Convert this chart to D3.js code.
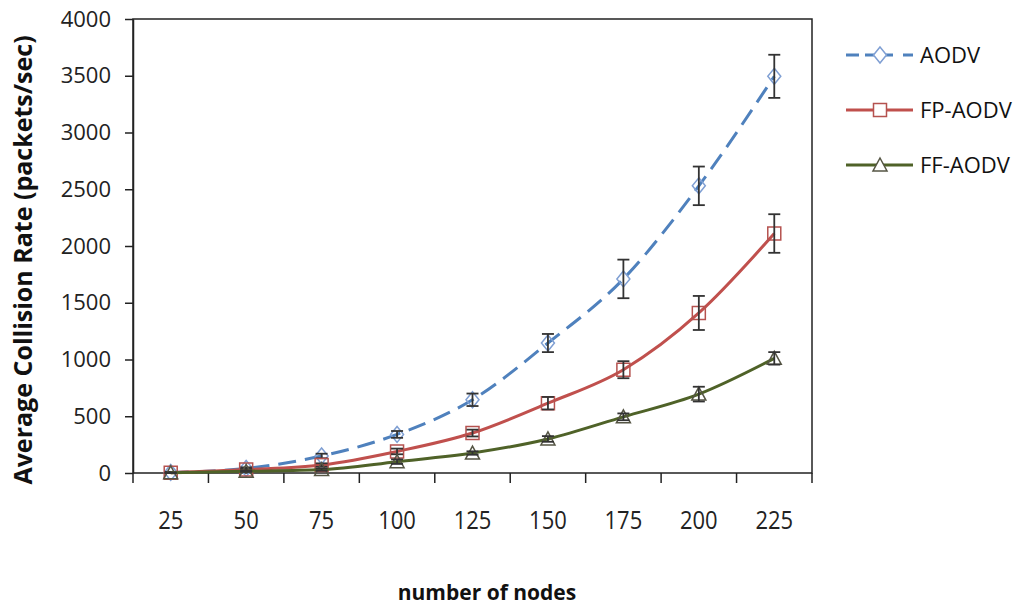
<!DOCTYPE html>
<html>
<head>
<meta charset="utf-8">
<script src="https://cdn.jsdelivr.net/npm/d3@7"></script>
<style>
body{margin:0;background:#fff;}
svg{display:block;font-family:"Open Sans",sans-serif;}
</style>
</head>
<body>
<div id="chart"></div>
<script>
// data
var nodes = ["25","50","75","100","125","150","175","200","225"];
var aodv   = [5, 40, 150, 340, 645, 1145, 1710, 2530, 3495];
var aodvErr= [5, 10, 20, 30, 55, 80, 170, 170, 190];
var fp     = [3, 30, 70, 190, 352, 615, 910, 1410, 2110];
var fpErr  = [3, 8, 15, 25, 30, 55, 75, 150, 170];
var ff     = [2, 15, 30, 100, 176, 300, 495, 695, 1010];
var ffErr  = [2, 5, 10, 20, 15, 25, 30, 65, 55];
var yTicks = [0,500,1000,1500,2000,2500,3000,3500,4000];

var series = [
	{name:"AODV", vals:aodv, err:aodvErr, color:"#4F81BD", mark:"#7F9FD3", dash:"18,9", legDash:"13,6,28,10,13", shape:"diamond"},
	{name:"FP-AODV", vals:fp, err:fpErr, color:"#C0504D", mark:"#B5524F", dash:null, legDash:null, shape:"square"},
	{name:"FF-AODV", vals:ff, err:ffErr, color:"#4F6228", mark:"#555544", dash:null, legDash:null, shape:"triangle"}
];

var W = 1018, H = 607;
var pLeft = 133, pRight = 812, pTop = 19, pBottom = 473;

var svg = d3.select("#chart").append("svg").attr("width",W).attr("height",H);

var x = d3.scaleBand().domain(nodes).range([pLeft,pRight]);
var y = d3.scaleLinear().domain([0,4000]).range([pBottom,pTop]);
function cx(c){ return x(c) + x.bandwidth()/2; }

// plot frame
svg.append("rect").attr("x",pLeft).attr("y",pTop).attr("width",pRight-pLeft).attr("height",pBottom-pTop)
	.style("fill","none").style("stroke","#222").style("stroke-width",1.5);

// y axis
var yAxis = d3.axisLeft(y).tickValues(yTicks).tickFormat(d3.format("d")).tickSize(8).tickSizeOuter(0).tickPadding(14);
var gy = svg.append("g").attr("transform","translate(" + pLeft + ",0)").call(yAxis);
gy.select(".domain").style("stroke","#222").style("stroke-width",1.5);
gy.selectAll(".tick line").style("stroke","#222").style("stroke-width",1.5);
gy.selectAll(".tick text").style("font-size","22px").style("fill","#222").style("font-family","'Open Sans',sans-serif");

// x axis: ticks between categories, like excel
var bounds = nodes.map(function(c){ return x(c); }).concat([pRight]);
svg.selectAll(".xtick").data(bounds).enter().append("line").attr("class","xtick")
	.attr("x1",function(d){ return d; }).attr("x2",function(d){ return d; })
	.attr("y1",pBottom).attr("y2",pBottom+10)
	.style("stroke","#222").style("stroke-width",1.5);

svg.selectAll(".xlab").data(nodes).enter().append("text").attr("class","xlab")
	.attr("x",function(d){ return cx(d); })
	.attr("y",529/1.15)
	.attr("transform","scale(1,1.15)")
	.attr("text-anchor","middle")
	.style("font-size","22px").style("fill","#222")
	.text(function(d){ return d; });

// lines
var line = d3.line().x(function(d){ return cx(d.c); }).y(function(d){ return y(d.v); }).curve(d3.curveMonotoneX);

function shapePath(shape, px, py){
	if (shape == "diamond"){
		return "M" + px + "," + (py-8) + "L" + (px+6.5) + "," + py + "L" + px + "," + (py+8) + "L" + (px-6.5) + "," + py + "Z";
	} else if (shape == "square"){
		return "M" + (px-6.5) + "," + (py-6.5) + "h13v13h-13Z";
	}
	return "M" + px + "," + (py-7) + "L" + (px+7) + "," + (py+6) + "L" + (px-7) + "," + (py+6) + "Z";
}

series.forEach(function(s){
	var pts = s.vals.map(function(v,i){ return {c:nodes[i], v:v, e:s.err[i]}; });

	svg.append("path").datum(pts).attr("d",line)
		.style("fill","none").style("stroke",s.color).style("stroke-width",3)
		.style("stroke-dasharray",s.dash);

	svg.selectAll(".m-" + s.shape).data(pts).enter().append("path").attr("class","m-" + s.shape)
		.attr("d",function(d){ return shapePath(s.shape, cx(d.c), y(d.v)); })
		.style("fill","none").style("stroke",s.mark).style("stroke-width",1.5);

	// error bars
	var eb = svg.selectAll(".eb-" + s.shape).data(pts).enter().append("g").attr("class","eb-" + s.shape);
	eb.append("line").attr("x1",function(d){ return cx(d.c); }).attr("x2",function(d){ return cx(d.c); })
		.attr("y1",function(d){ return y(d.v + d.e); }).attr("y2",function(d){ return y(d.v - d.e); });
	eb.append("line").attr("x1",function(d){ return cx(d.c) - 6; }).attr("x2",function(d){ return cx(d.c) + 6; })
		.attr("y1",function(d){ return y(d.v + d.e); }).attr("y2",function(d){ return y(d.v + d.e); });
	eb.append("line").attr("x1",function(d){ return cx(d.c) - 6; }).attr("x2",function(d){ return cx(d.c) + 6; })
		.attr("y1",function(d){ return y(d.v - d.e); }).attr("y2",function(d){ return y(d.v - d.e); });
	eb.selectAll("line").style("stroke","#333").style("stroke-width",1.8);
});

// legend
var legendY = [55,110,165];
series.forEach(function(s,i){
	var g = svg.append("g").attr("transform","translate(846," + legendY[i] + ")");
	g.append("line").attr("x1",0).attr("x2",67).attr("y1",0).attr("y2",0)
		.style("stroke",s.color).style("stroke-width",3).style("stroke-dasharray", s.legDash);
	g.append("path").attr("d",shapePath(s.shape,34,0))
		.style("fill","#fff").style("stroke",s.mark).style("stroke-width",1.5);
	g.append("text").attr("x",74).attr("y",8).style("font-size","22px").style("fill","#111").text(s.name);
});

// axis titles
svg.append("text").attr("transform","translate(32,260) rotate(-90)")
	.attr("text-anchor","middle").style("font-size","25px").style("font-weight","bold").style("fill","#111")
	.text("Average Collision Rate (packets/sec)");

svg.append("text").attr("x",487).attr("y",600).attr("text-anchor","middle")
	.style("font-size","21px").style("font-weight","bold").style("fill","#111")
	.text("number of nodes");
</script>
</body>
</html>
